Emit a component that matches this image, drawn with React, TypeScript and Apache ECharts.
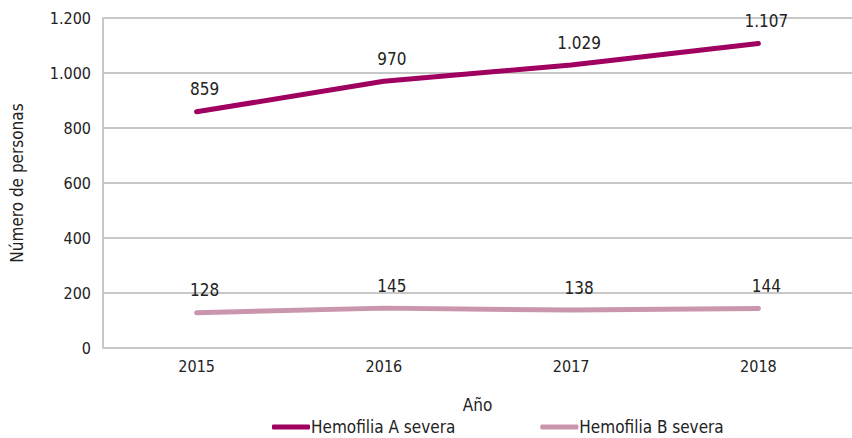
import React, { useEffect, useRef } from "react";
import * as echarts from "echarts";

const years = ["2015", "2016", "2017", "2018"];
const hemofiliaA = [859, 970, 1029, 1107];
const hemofiliaB = [128, 145, 138, 144];
const seriesNames = ["Hemofilia A severa", "Hemofilia B severa"];
const colors = ["#a0005f", "#c996ad"];

const FONT = "'DejaVu Sans Condensed', 'Liberation Sans Narrow', 'Roboto', sans-serif";

const fmt = (v: number) => v.toString().replace(/\B(?=(\d{3})+(?!\d))/g, ".");

export default function App() {
  const ref = useRef<HTMLDivElement>(null);
  useEffect(() => {
    const chart = echarts.init(ref.current!, null, { renderer: "svg" });
    const label = {
      show: true,
      position: "top" as const,
      distance: 12,
      offset: [8, 0],
      color: "#222",
      fontSize: 17,
      fontFamily: FONT,
      formatter: (p: any) => fmt(p.value),
    };
    const mk = (i: number, data: number[]) => ({
      name: seriesNames[i],
      type: "line",
      data,
      symbol: "circle",
      symbolSize: 4,
      showSymbol: true,
      color: colors[i],
      itemStyle: { color: colors[i] },
      lineStyle: { width: 5, cap: "round", color: colors[i] },
      label,
    });
    chart.setOption({
      animation: false,
      textStyle: { fontFamily: FONT },
      grid: { left: 101, right: 0, top: 18, bottom: 90, containLabel: false },
      legend: {
        orient: "horizontal",
        top: 417,
        left: 272,
        width: 580,
        padding: 0,
        itemGap: 85,
        itemWidth: 38,
        itemHeight: 5,
        icon: "roundRect",
        textStyle: { fontSize: 17, lineHeight: 20, fontFamily: FONT, color: "#222", padding: [0, 0, 0, -4] },
        data: seriesNames,
      },
      xAxis: {
        type: "category",
        data: years,
        boundaryGap: true,
        name: "Año",
        nameLocation: "middle",
        nameGap: 48,
        nameTextStyle: { fontSize: 17, fontFamily: FONT, color: "#222" },
        axisLine: { show: false },
        axisTick: { show: false },
        axisLabel: { fontSize: 16, fontFamily: FONT, color: "#222", margin: 10 },
      },
      yAxis: {
        type: "value",
        min: 0,
        max: 1200,
        interval: 200,
        name: "Número de personas",
        nameLocation: "middle",
        nameGap: 78,
        nameTextStyle: { fontSize: 17, fontFamily: FONT, color: "#222" },
        axisLine: { show: true, lineStyle: { color: "#c8c8c8", width: 2 } },
        axisTick: { show: false },
        axisLabel: { fontSize: 16, fontFamily: FONT, color: "#222", margin: 12, formatter: (v: number) => fmt(v) },
        splitLine: { lineStyle: { color: "#c8c8c8", width: 2 } },
      },
      series: [mk(0, hemofiliaA), mk(1, hemofiliaB)],
    });
    return () => chart.dispose();
  }, []);
  return <div ref={ref} style={{ width: 852, height: 438, position: "absolute", left: 0, top: 0 }} />;
}
